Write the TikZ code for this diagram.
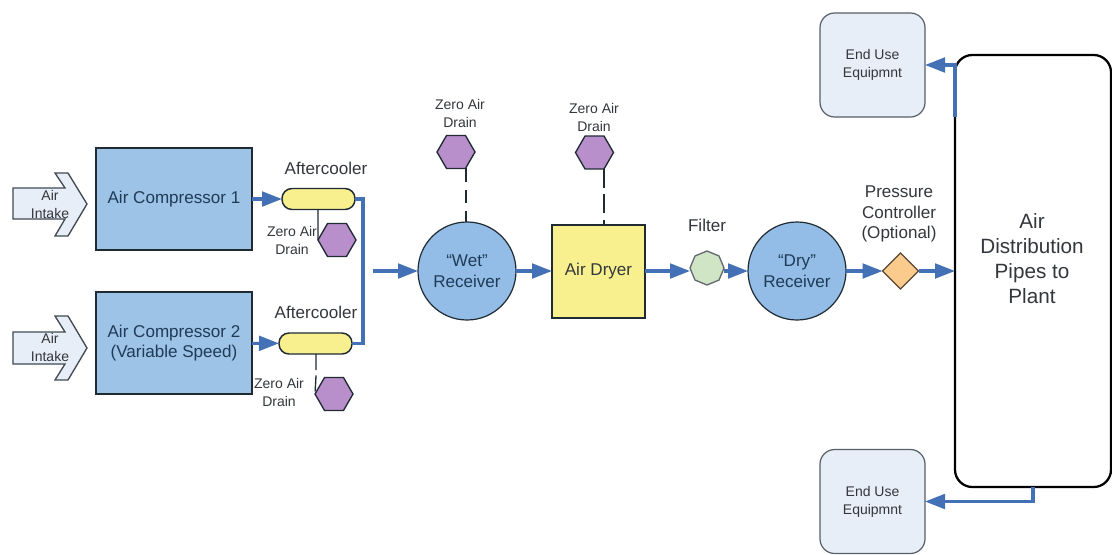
\documentclass[tikz,border=0pt]{standalone}
\usepackage{fontspec}
\setmainfont{Liberation Sans}
\usetikzlibrary{arrows.meta,shapes.geometric}
\definecolor{flow}{HTML}{4470B5}
\definecolor{comp}{HTML}{9DC3E6}
\definecolor{recv}{HTML}{93BDE6}
\definecolor{yel}{HTML}{F8F08E}
\definecolor{purp}{HTML}{B98FCB}
\definecolor{grn}{HTML}{CFE5C6}
\definecolor{org}{HTML}{FBCB8E}
\definecolor{pale}{HTML}{E7EEF8}
\definecolor{edge}{HTML}{1F2A33}
\definecolor{txt}{HTML}{33373C}
\definecolor{bluetxt}{HTML}{1F3B57}
\def\pxu{0.75pt}
\tikzset{
  x=0.75pt,y=-0.75pt,
  every node/.style={inner sep=0pt,outer sep=0pt,align=center,text=txt},
  lab/.style={font=\fontsize{12.8}{15.4}\selectfont},
  small/.style={font=\fontsize{10.5}{13.5}\selectfont},
  box/.style={draw=edge,line width=1.3pt},
  compbox/.style={box,fill=comp,minimum width=156*\pxu,minimum height=102*\pxu,text=bluetxt},
  cooler/.style={draw=edge,line width=1.1pt,fill=yel,rounded corners=7.5pt,minimum width=73*\pxu,minimum height=21*\pxu},
  hexa/.style={draw=edge,line width=1pt,fill=purp,regular polygon,regular polygon sides=6,minimum size=38*\pxu},
  recvc/.style={circle,draw=edge,line width=0.9pt,fill=recv,minimum size=98*\pxu,text=bluetxt},
  enduse/.style={draw=edge!75!white,line width=0.9pt,fill=pale,rounded corners=11pt,minimum width=105*\pxu,minimum height=104*\pxu},
  intake/.style={draw=edge!85!white,line width=1pt,fill=pale},
  flowline/.style={draw=flow,line width=2.3pt,-{Triangle[length=15pt,width=11pt]}},
  pipe/.style={draw=flow,line width=2.3pt},
  drain/.style={draw=edge,line width=1pt},
}
\begin{document}
\begin{tikzpicture}
\useasboundingbox (0,0) rectangle (1112,554);
\fill[white] (0,0) rectangle (1112,554);
% air intakes
\path[intake] (55,173) -- (68,173) -- (87,204) -- (68,236) -- (55,236) -- (65,219) -- (13,219) -- (13,188) -- (65,188) -- cycle;
\path[intake] (55,316) -- (68,316) -- (87,348) -- (68,380) -- (55,380) -- (65,364) -- (13,364) -- (13,332) -- (65,332) -- cycle;
\node[small] (in1) at (50,204) {Air\\Intake};
\node[small] (in2) at (50,347) {Air\\Intake};
% compressors
\node[compbox,lab] (c1) at (174,199) {Air Compressor 1};
\node[compbox,lab] (c2) at (174,343) {Air Compressor 2\\(Variable Speed)};
% aftercoolers
\node[cooler] (ac1) at (318.5,199) {};
\node[cooler] (ac2) at (315.5,343.5) {};
\node[lab] (ac1l) at (326,168) {Aftercooler};
\node[lab] (ac2l) at (316,312) {Aftercooler};
% drains
\node[hexa] (h1) at (337,240) {};
\node[hexa] (h2) at (334,394) {};
\node[hexa] (h3) at (456,152) {};
\node[hexa] (h4) at (594.5,152.5) {};
\node[small] (d1) at (292,240) {Zero Air\\Drain};
\node[small] (d2) at (279,392) {Zero Air\\Drain};
\node[small] (d3) at (460,113) {Zero Air\\Drain};
\node[small] (d4) at (594,117) {Zero Air\\Drain};
% main line
\coordinate (free) at (373,271);
\node[recvc,lab] (wet) at (467,271) {``Wet''\\Receiver};
\node[box,fill=yel,lab,minimum width=93*\pxu,minimum height=93*\pxu] (dry) at (598.5,271.5) {Air Dryer};
\node[draw=edge!70!white,line width=1pt,fill=grn,regular polygon,regular polygon sides=8,shape border rotate=22.5,minimum size=34*\pxu] (filt) at (707,268) {};
\node[lab] (filtl) at (707,225) {Filter};
\node[recvc,lab] (dr) at (797,271) {``Dry''\\Receiver};
\node[diamond,aspect=1,draw=black!65!org,line width=1pt,fill=org,minimum width=36*\pxu,minimum height=36*\pxu] (pc) at (900.5,271) {};
\node[lab] (pcl) at (899,214) {Pressure\\Controller\\(Optional)};
\node[draw=black,line width=1.7pt,rounded corners=13pt,fill=white,minimum width=156*\pxu,minimum height=432*\pxu] (big) at (1033,271) {};
\node[font=\fontsize{15.5}{18.8}\selectfont] (bigl) at (1032,259) {Air\\Distribution\\Pipes to\\Plant};
\node[enduse,small] (eu1) at (872.5,65) {End Use\\Equipmnt};
\node[enduse,small] (eu2) at (872.5,501.5) {End Use\\Equipmnt};
% connectors
\draw[flowline] (c1) -- (ac1);
\draw[flowline] (c2) -- (ac2);
\draw[pipe] (ac1.east) -| (363,271) |- (ac2.east);
\draw[flowline] (free) -- (wet);
\draw[flowline] (wet.east) -- (dry.west |- wet);
\draw[flowline] (dry.east |- free) -- (filt.west |- free);
\draw[flowline] (filt.east |- free) -- (dr.west);
\draw[flowline] (dr) -- (pc);
\draw[flowline] (pc) -- (big);
\draw[flowline] (big.west |- eu1.south) |- (eu1.east);
\draw[flowline] (big.south) |- (eu2.east);
\draw[drain] (ac1.south -| 318,210) -- (318,237) -- (h1.west);
\draw[drain,dash pattern=on 12pt off 4pt] (316,354) -- (316,376) -- (h2.west);
\draw[drain,dash pattern=on 10pt off 6pt] (h3.south -| 466,168) -- (wet.north -| 466,222);
\draw[drain,dash pattern=on 14pt off 5pt] (h4.south -| 604,169) -- (dry.north -| 604,225);
\end{tikzpicture}
\end{document}
